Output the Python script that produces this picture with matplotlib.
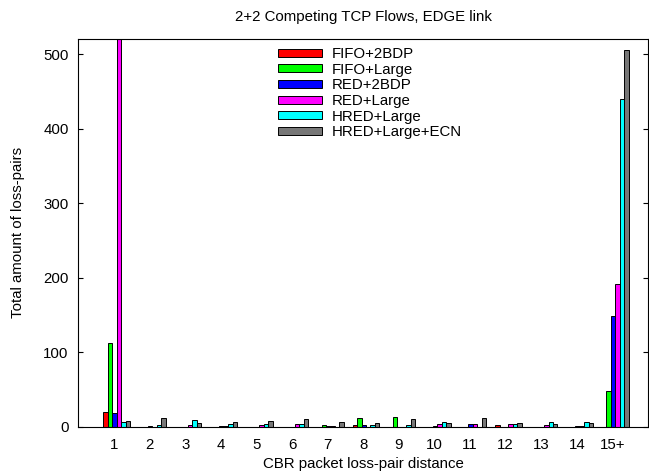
import numpy as np
from matplotlib import pyplot as plt

plt.rcParams["font.family"] = ["Liberation Sans", "DejaVu Sans"]
plt.rcParams["font.size"] = 10.8

# loss-pair distance groups
distances = ["1", "2", "3", "4", "5", "6", "7", "8", "9", "10", "11", "12", "13", "14", "15+"]

# total amount of loss-pairs per configuration
fifo_2bdp = [20, 0, 0, 0, 0, 0, 0, 2, 0, 0, 0, 2, 0, 0, 0]
fifo_large = [112, 0, 0, 0, 0, 0, 2, 11, 13, 0, 0, 0, 0, 0, 48]
red_2bdp = [18, 1, 0, 1, 0, 0, 1, 2, 0, 1, 3, 0, 0, 1, 148]
red_large = [560, 0, 2, 1, 2, 3, 1, 0, 0, 3, 3, 4, 2, 1, 191]
hred_large = [6, 2, 9, 3, 3, 4, 0, 2, 2, 6, 0, 4, 6, 6, 440]
hred_large_ecn = [7, 11, 5, 6, 8, 10, 6, 5, 10, 5, 11, 5, 4, 5, 506]

series = [
    ("FIFO+2BDP", fifo_2bdp, "#ff0000"),
    ("FIFO+Large", fifo_large, "#00ff00"),
    ("RED+2BDP", red_2bdp, "#0000ff"),
    ("RED+Large", red_large, "#ff00ff"),
    ("HRED+Large", hred_large, "#00ffff"),
    ("HRED+Large+ECN", hred_large_ecn, "#777777"),
]

fig = plt.figure(figsize=(6.49, 4.73), dpi=100)
ax = fig.add_axes([0.1207, 0.0983, 0.8778, 0.8186])

x = np.arange(1, len(distances) + 1)
width = 0.125
shift = 0.08
for i, (label, values, color) in enumerate(series):
    ax.bar(x + (i - 2.5) * width + shift, values, width=width, color=color,
           edgecolor="black", linewidth=0.7, label=label)

ax.set_xlim(0, 16)
ax.set_ylim(0, 520)
ax.set_xticks(x)
ax.set_xticklabels(distances)
ax.set_yticks(range(0, 501, 100))
ax.tick_params(axis="x", length=0, pad=8)
ax.tick_params(axis="y", direction="in", length=3.6, right=True, pad=7)

ax.set_title("2+2 Competing TCP Flows, EDGE link", fontsize=10.8, pad=13)
ax.set_xlabel("CBR packet loss-pair distance", labelpad=4)
ax.set_ylabel("Total amount of loss-pairs", labelpad=13)

ax.legend(loc="upper left", bbox_to_anchor=(278 / 649, 1 - 47 / 473),
          bbox_transform=fig.transFigure, frameon=False, borderpad=0,
          borderaxespad=0, handlelength=2.93, handleheight=0.43,
          handletextpad=0.67, labelspacing=0.11)

fig.savefig("out.png", dpi=100)
